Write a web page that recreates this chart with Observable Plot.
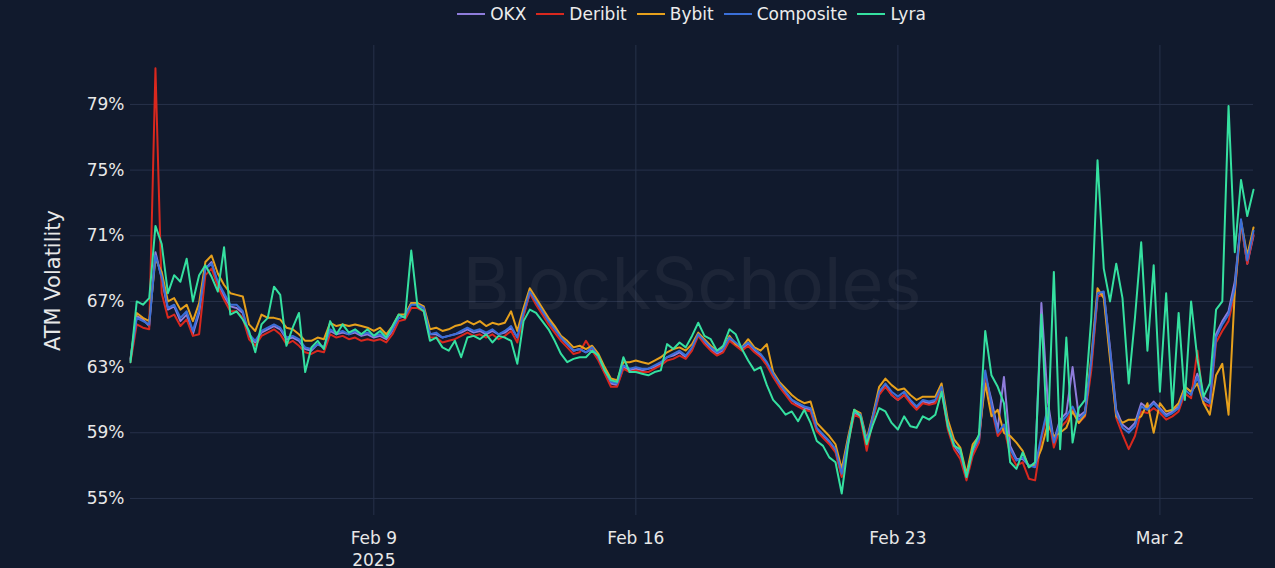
<!DOCTYPE html>
<html><head><meta charset="utf-8">
<script src="https://cdn.jsdelivr.net/npm/d3@7"></script>
<script src="https://cdn.jsdelivr.net/npm/@observablehq/plot@0.6"></script>
<style>
html,body{margin:0;padding:0;background:#111a2d;}
#legend{height:28px;display:flex;justify-content:center;align-items:center;margin-left:130px;width:1123px;font-family:"DejaVu Sans";font-size:17px;color:#ececec;}
.item{display:flex;align-items:center;margin:0 5px;}
.sw{width:28px;height:2px;margin-right:5px;}
g[aria-label="y-axis label"] text{font-size:21px;}
</style></head><body>
<div id="legend"></div><div id="chart"></div>
<script>
// ---- data ----
const startTime = Date.UTC(2025, 1, 2, 12); // first sample
const stepHours = 4;
const seriesNames = ["OKX", "Deribit", "Bybit", "Composite", "Lyra"];
const seriesColors = ["#8e7cdb", "#d9281e", "#e6a01c", "#3a6fd8", "#35e0a0"];
const yTicks = [55, 59, 63, 67, 71, 75, 79];
const xTickDates = ["2025-02-09", "2025-02-16", "2025-02-23", "2025-03-02"];
const xTickLabels = ["Feb 9\n2025", "Feb 16", "Feb 23", "Mar 2"];
const yLabel = "ATM Volatility";
const watermark = "BlockScholes";

const okx = [
63.4,66.1,65.9,65.5,70.0,68.4,66.5,66.7,65.8,66.2,
65.0,66.3,69.0,69.4,68.0,67.3,66.7,66.6,66.3,64.9,
64.5,65.1,65.3,65.5,65.3,64.7,64.8,64.6,64.1,64.0,
64.4,64.2,65.2,65.0,65.1,65.0,65.1,64.9,65.0,64.8,
64.9,64.7,65.2,66.0,66.1,66.9,66.9,66.6,65.0,65.0,
64.8,64.9,65.0,65.1,65.3,65.1,65.2,65.0,65.2,65.0,
65.1,65.4,64.8,66.2,67.5,67.0,66.4,65.9,65.4,64.8,
64.4,64.0,64.1,63.9,64.1,63.5,62.7,62.0,61.9,63.0,
62.8,62.9,62.8,62.9,63.0,63.2,63.6,63.7,63.9,63.6,
64.1,65.0,64.5,64.1,63.8,64.0,64.7,64.4,64.1,64.4,
64.0,63.7,63.2,62.6,62.0,61.4,61.0,60.7,60.5,60.4,
59.2,58.8,58.4,57.9,56.4,58.4,60.2,60.0,58.4,59.9,
61.4,61.9,61.3,61.0,61.3,60.9,60.5,60.9,60.8,60.9,
61.7,59.4,58.2,57.7,56.3,57.8,58.5,62.5,61.0,59.2,
62.4,58.2,57.4,57.4,57.0,57.0,66.9,61.0,58.5,59.8,
60.2,63.0,60.0,60.3,63.2,67.3,67.5,64.2,60.4,59.5,
59.2,59.6,60.8,60.5,60.9,60.5,60.1,60.3,60.6,61.8,
61.5,62.6,61.2,60.9,65.0,65.8,66.4,68.2,71.8,69.3,
71.0];
const deribit = [
63.3,65.6,65.4,65.3,81.2,67.5,66.0,66.2,65.5,65.9,
64.9,65.0,68.6,69.0,67.9,67.1,66.4,66.4,66.0,64.7,
64.3,64.9,65.1,65.3,65.0,64.4,64.6,64.3,63.9,63.8,
64.0,63.9,65.0,64.8,64.9,64.7,64.8,64.6,64.7,64.6,
64.7,64.5,65.0,65.8,65.9,66.6,66.6,66.4,64.8,64.8,
64.5,64.6,64.7,64.9,65.1,64.9,65.0,64.8,65.0,64.7,
64.9,65.2,64.5,66.1,67.5,66.8,66.2,65.6,65.1,64.6,
64.2,63.8,63.9,64.6,64.0,63.4,62.6,61.8,61.8,62.9,
62.7,62.8,62.7,62.7,62.9,63.1,63.4,63.5,63.7,63.5,
64.0,64.9,64.4,64.0,63.7,63.9,64.6,64.3,64.0,64.3,
63.9,63.6,63.1,62.4,61.8,61.3,60.8,60.6,60.4,60.3,
59.1,58.7,58.3,57.8,56.3,58.3,60.1,59.9,57.9,59.8,
61.3,61.8,61.3,61.0,61.3,60.8,60.4,60.8,60.7,60.8,
61.6,59.2,58.0,57.4,56.1,57.6,58.4,62.6,60.5,58.8,
59.3,57.7,57.0,57.2,56.2,56.1,58.6,60.2,58.1,59.3,
59.7,60.4,59.6,60.0,62.8,67.3,67.4,63.8,59.9,58.9,
58.0,58.8,60.3,60.2,60.5,60.2,59.8,60.0,60.3,61.4,
61.1,64.0,60.8,60.6,64.5,65.2,65.8,67.5,71.8,69.3,
71.1];
const bybit = [
63.5,66.3,66.0,65.8,69.6,68.8,67.0,67.2,66.5,66.8,
65.8,66.9,69.4,69.8,68.7,68.0,67.5,67.4,67.3,65.6,
65.2,66.2,66.0,66.0,65.9,65.4,65.3,65.0,64.6,64.6,
64.8,64.7,65.7,65.5,65.6,65.5,65.6,65.5,65.4,65.2,
65.4,65.0,65.5,66.2,66.2,66.9,66.9,66.7,65.3,65.4,
65.2,65.3,65.5,65.6,65.8,65.6,65.8,65.5,65.7,65.6,
65.7,66.4,65.2,66.6,67.8,67.2,66.6,66.0,65.5,64.9,
64.6,64.2,64.3,64.1,64.3,63.8,63.0,62.3,62.2,63.3,
63.3,63.4,63.3,63.2,63.4,63.6,63.9,64.1,64.2,64.0,
64.4,65.1,64.7,64.3,64.0,64.2,64.9,64.4,64.2,64.7,
64.2,64.0,64.4,62.7,62.1,61.7,61.3,61.0,60.8,60.9,
59.6,59.2,58.8,58.3,56.8,58.7,60.4,60.2,58.6,60.1,
61.8,62.3,61.9,61.6,61.7,61.3,61.0,61.2,61.2,61.2,
62.0,59.8,58.6,58.1,56.5,58.3,58.8,62.0,60.0,60.4,
59.0,58.8,58.4,57.9,56.9,57.1,58.0,59.5,58.8,59.0,
59.3,60.3,59.6,60.1,63.6,67.8,67.2,63.5,60.0,59.6,
59.8,59.8,60.0,60.8,59.0,60.8,60.3,60.4,60.8,61.8,
61.5,62.0,60.8,60.1,62.5,63.2,60.1,67.6,71.9,69.8,
71.5];
const composite = [
63.5,66.0,65.8,65.6,69.8,68.5,66.6,66.8,66.0,66.4,
65.2,66.5,69.0,69.3,68.2,67.5,66.8,66.8,66.4,65.0,
64.6,65.2,65.4,65.6,65.4,64.8,64.9,64.7,64.2,64.1,
64.4,64.2,65.3,65.1,65.2,65.0,65.2,65.0,65.1,64.9,
65.0,64.8,65.3,66.0,66.1,66.8,66.8,66.6,65.0,65.1,
64.8,64.9,65.0,65.2,65.4,65.2,65.3,65.1,65.3,65.0,
65.2,65.5,64.8,66.3,67.6,67.0,66.4,65.8,65.3,64.8,
64.4,64.0,64.1,63.9,64.2,63.6,62.8,62.1,62.0,63.1,
62.9,63.0,62.9,62.9,63.1,63.3,63.6,63.8,64.0,63.7,
64.2,65.0,64.6,64.2,63.9,64.1,64.8,64.5,64.2,64.5,
64.1,63.8,63.3,62.6,62.0,61.5,61.0,60.8,60.6,60.5,
59.3,58.9,58.5,58.0,56.5,58.5,60.3,60.1,58.5,60.0,
61.5,62.0,61.5,61.2,61.5,61.0,60.6,61.0,60.9,61.0,
61.8,59.5,58.3,57.8,56.3,57.9,58.6,62.8,60.7,59.0,
59.5,58.0,57.3,57.5,57.0,56.9,58.8,60.5,58.4,59.6,
60.0,60.6,59.8,60.2,63.4,67.5,67.6,64.0,60.2,59.3,
59.0,59.4,60.6,60.4,60.8,60.4,60.0,60.2,60.5,61.6,
61.3,62.4,61.0,60.8,64.8,65.6,66.2,67.8,72.0,69.5,
71.3];
const lyra = [
63.3,67.0,66.8,67.2,71.6,70.5,67.5,68.6,68.2,69.6,
67.0,68.6,69.2,68.5,67.6,70.3,66.2,66.4,65.9,65.2,
63.9,65.6,66.0,67.9,67.4,64.3,65.4,66.3,62.7,64.2,
64.6,64.1,65.8,65.0,65.6,65.1,65.3,65.0,65.3,64.9,
65.2,64.8,65.5,66.2,66.0,70.1,66.7,66.4,64.6,64.8,
64.2,64.0,64.6,63.6,64.8,64.9,64.7,65.0,64.5,64.9,
64.8,64.6,63.2,65.8,66.5,66.3,65.8,65.3,64.6,63.8,
63.3,63.5,63.6,63.6,64.0,63.7,62.8,62.2,62.1,63.6,
62.7,62.7,62.6,62.5,62.7,62.8,64.4,64.1,64.5,64.2,
64.9,65.7,64.9,64.7,64.0,64.3,65.3,65.0,64.1,63.4,
62.8,63.0,61.9,61.0,60.6,60.1,60.3,59.7,60.4,59.6,
58.5,58.2,57.5,57.2,55.3,58.2,60.4,60.0,58.3,59.5,
60.5,60.3,59.6,59.2,60.0,59.4,59.3,60.0,59.8,60.1,
61.5,59.4,58.2,58.0,56.3,58.0,58.9,65.2,62.5,61.8,
60.8,57.2,56.8,57.8,56.9,57.2,66.2,58.5,68.8,58.0,
64.8,58.4,60.5,61.0,66.0,75.6,69.0,67.0,69.3,67.2,
62.0,66.0,70.6,64.0,69.2,61.5,67.5,60.4,66.3,61.0,
67.0,63.5,61.2,62.0,66.5,67.0,78.9,70.0,74.4,72.2,
73.8];

// ---- build table ----
const seriesValues = [okx, deribit, bybit, composite, lyra];
const rows = [];
seriesNames.forEach((name, s) => {
  seriesValues[s].forEach((v, i) => {
    rows.push({series: name, date: new Date(startTime + i * stepHours * 3600e3), value: v});
  });
});
const n = okx.length;
const endTime = new Date(startTime + (n - 1) * stepHours * 3600e3);
const xTicks = xTickDates.map(d => new Date(d + "T00:00:00Z"));

// ---- legend ----
const legend = document.getElementById("legend");
seriesNames.forEach((name, s) => {
  const it = document.createElement("div");
  it.className = "item";
  const sw = document.createElement("span");
  sw.className = "sw";
  sw.style.background = seriesColors[s];
  const tx = document.createElement("span");
  tx.textContent = name;
  it.appendChild(sw); it.appendChild(tx);
  legend.appendChild(it);
});

const grid = "#27314a";
const chart = Plot.plot({
  width: 1275, height: 540,
  marginTop: 17, marginBottom: 53, marginLeft: 130, marginRight: 22,
  style: {background: "#111a2d", color: "#e8e8e8", fontFamily: "DejaVu Sans", fontSize: "17px", overflow: "visible"},
  x: {type: "utc", domain: [new Date(startTime), endTime]},
  y: {domain: [53.96, 82.59]},
  color: {domain: seriesNames, range: seriesColors},
  marks: [
    Plot.gridY(yTicks, {stroke: grid, strokeOpacity: 1}),
    Plot.gridX(xTicks, {stroke: grid, strokeOpacity: 1}),
    Plot.text([watermark], {frameAnchor: "middle", text: d => d, fontSize: 72, fontFamily: "Inter", fill: "#ffffff", fillOpacity: 0.05, dy: 5}),
    Plot.line(rows, {x: "date", y: "value", z: "series", stroke: "series", strokeWidth: 2}),
    Plot.axisY(yTicks, {tickSize: 0, tickPadding: 6, tickFormat: d => d + "%", label: yLabel, labelAnchor: "center", labelArrow: "none", labelOffset: 85}),
    Plot.axisX(xTicks, {tickSize: 0, tickPadding: 13, lineHeight: 1.3, label: null,
      tickFormat: d => xTickLabels[xTicks.findIndex(t => +t === +d)]})
  ]
});
document.getElementById("chart").appendChild(chart);
</script></body></html>
